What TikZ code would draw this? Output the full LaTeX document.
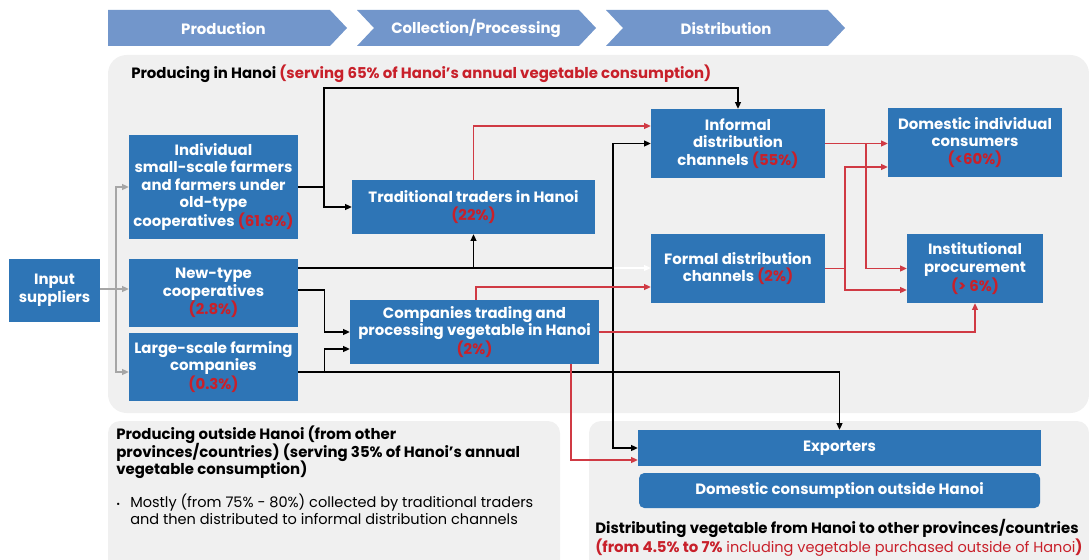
\documentclass[tikz,border=0pt]{standalone}
\usepackage{fontspec}
\setmainfont{Poppins}
\usetikzlibrary{calc,arrows.meta}
\definecolor{boxblue}{RGB}{46,117,182}
\definecolor{chev}{RGB}{114,150,203}
\definecolor{panel}{RGB}{240,240,240}
\definecolor{redt}{RGB}{200,32,42}
\definecolor{redl}{RGB}{208,58,68}
\definecolor{grayl}{RGB}{166,166,166}
\newcommand\rd[1]{\textcolor{redt}{#1}}
\newcommand\fsz{\fontsize{11.2}{13.2}\selectfont}
\newcommand\fszr{\fontsize{10.9}{13.2}\selectfont}
\begin{document}
\begin{tikzpicture}[x=0.75pt,y=-0.75pt,
  box/.style={fill=boxblue,text=white,font=\fsz\bfseries,align=center,inner sep=0pt},
  wh/.style 2 args={minimum width=#1*0.75pt,minimum height=#2*0.75pt},
  arr/.style={-{Triangle[length=5pt,width=4.5pt]}},
  blk/.style={draw=black,line width=0.9pt},
  rdl/.style={draw=redl,line width=0.9pt},
  gry/.style={draw=grayl,line width=0.9pt},
  chevtxt/.style={text=white,font=\fsz\bfseries},
  lbl/.style={font=\fszr,anchor=base west,inner sep=0pt}
]
\useasboundingbox (0,0) rectangle (1089,560);
\clip (0,0) rectangle (1089,560);

% chevrons
\fill[chev] (108,10) -- (330,10) -- (347,28) -- (330,46) -- (108,46) -- cycle;
\fill[chev] (357,10) -- (579,10) -- (596,28) -- (579,46) -- (357,46) -- (374,28) -- cycle;
\fill[chev] (606,10) -- (828,10) -- (845,28) -- (828,46) -- (606,46) -- (623,28) -- cycle;
\node[chevtxt] (h1) at (223.5,28.5) {Production};
\node[chevtxt] (h2) at (476,28.5) {Collection/Processing};
\node[chevtxt] (h3) at (726,28.5) {Distribution};

% panels
\fill[panel,rounded corners=14pt] (108,55) rectangle (1089,413);
\fill[panel,rounded corners=9pt] (108,421) rectangle (560,590);
\fill[panel,rounded corners=9pt] (589,421) rectangle (1089,590);

% titles
\node[lbl,font=\fsz\bfseries] (t1) at (131,78.5) {Producing in Hanoi \rd{(serving 65\% of Hanoi’s annual vegetable consumption)}};
\node[lbl,font=\fsz\bfseries] (t2a) at (116,439.5) {Producing outside Hanoi (from other};
\node[lbl,font=\fsz\bfseries] (t2b) at (116,457) {provinces/countries) (serving 35\% of Hanoi’s annual};
\node[lbl,font=\fsz\bfseries] (t2c) at (116,474.5) {vegetable consumption)};
\node[lbl] (bul) at (116,507.5) {\scriptsize •};
\node[lbl] (t3a) at (130,507.5) {Mostly (from 75\% - 80\%) collected by traditional traders};
\node[lbl] (t3b) at (130,524.5) {and then distributed to informal distribution channels};
\node[lbl,font=\fsz\bfseries] (t4a) at (595,533.5) {Distributing vegetable from Hanoi to other provinces/countries};
\node[lbl,text=redt] (t4b) at (595,552.5) {\fsz\textbf{(from 4.5\% to 7\%}\fszr{} including vegetable purchased outside of Hanoi\fsz\textbf{)}};

% boxes
\node[box,wh={91}{63}] (inp) at (54.5,290.5) {Input\\suppliers};
\node[box,wh={169}{104}] (indiv) at (213.5,187) {Individual\\small-scale farmers\\and farmers under\\old-type\\cooperatives \rd{(61.9\%)}};
\node[box,wh={169}{68}] (newt) at (213.5,293) {New-type\\cooperatives\\\rd{(2.8\%)}};
\node[box,wh={169}{68}] (large) at (213.5,367) {Large-scale farming\\companies\\\rd{(0.3\%)}};
\node[box,wh={243}{54}] (trad) at (473.5,207) {Traditional traders in Hanoi\\\rd{(22\%)}};
\node[box,wh={249}{64}] (comp) at (474.5,332) {Companies trading and\\processing vegetable in Hanoi\\\rd{(2\%)}};
\node[box,wh={174}{69}] (inf) at (738,143.5) {Informal\\distribution\\channels \rd{(55\%)}};
\node[box,wh={174}{69}] (form) at (738,268.5) {Formal distribution\\channels \rd{(2\%)}};
\node[box,wh={174}{69}] (dom) at (975,142.5) {Domestic individual\\consumers\\\rd{(<60\%)}};
\node[box,wh={136}{69}] (inst) at (975,268.5) {Institutional\\procurement\\\rd{(> 6\%)}};
\node[box,wh={403}{36}] (exp) at (839.5,448) {Exporters};
\node[box,wh={401}{35},rounded corners=4pt] (domout) at (839.5,490.5) {Domestic consumption outside Hanoi};

% gray connectors
\coordinate (gj) at (116,289);
\draw[gry] (inp.east |- gj) -- (gj);
\draw[gry,arr] (gj) -- (newt.west |- gj);
\draw[gry,arr] (gj) |- (indiv.west);
\draw[gry,arr] (gj) |- ($(large.west)+(0,5)$);

% black connectors
\coordinate (b1) at (324,187);
\draw[blk,arr] (indiv.east) -- (b1) -- ++(0,-99) -| (inf.north);
\draw[blk,arr] (b1) |- (trad.west);
\coordinate (n1) at ($(newt.east)+(0,-25)$);
\coordinate (vx) at (613,300);
\draw[blk] (n1) -- (n1 -| vx);
\draw[white,line width=0.9pt,arr] (n1 -| vx) -- (form.west |- n1);
\draw[blk,arr] (n1 -| trad.south) -- (trad.south);
\draw[blk,{Triangle[length=5pt,width=4.5pt]}-{Triangle[length=5pt,width=4.5pt]}] (inf.west) -| (vx) |- (exp.west);
\draw[blk,arr] ($(newt.east)+(0,-3)$) -- ++(26,0) |- (comp.west);
\coordinate (l1) at ($(large.east)+(0,5)$);
\draw[blk,arr] (l1) -| (exp.north);
\draw[blk,arr] ($(l1)+(26,0)$) |- ($(comp.west)+(0,17)$);

% red connectors
\draw[rdl,arr] (trad.north) |- ($(inf.west)+(0,-17.5)$);
\draw[rdl,arr] ($(comp.north)+(1.5,0)$) |- ($(form.west)+(0,18.5)$);
\draw[rdl,arr] (comp.east) -| (inst.south);
\draw[rdl,arr] ($(comp.south)+(96.5,0)$) |- ($(exp.west)+(0,12)$);
\coordinate (r1) at (866,143.5);
\draw[rdl,arr] (inf.east) -- (inf.east -| dom.west);
\draw[rdl,arr] (inf.east -| r1) |- (inst.west);
\coordinate (r2) at (845,268.5);
\draw[rdl] (form.east) -- (r2);
\draw[rdl,arr] (r2) |- ($(dom.west)+(0,24.5)$);
\draw[rdl,arr] (r2) |- ($(inst.west)+(0,21.5)$);
\end{tikzpicture}
\end{document}
